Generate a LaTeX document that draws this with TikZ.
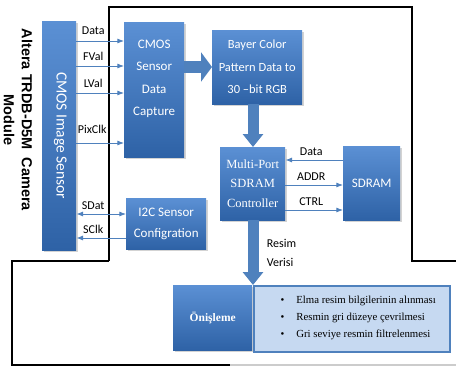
\documentclass[tikz,border=0pt]{standalone}
\usepackage{fontspec}
\setmainfont{Liberation Serif}
\newfontfamily\calfont{Carlito}
\newfontfamily\arialfont{Liberation Sans}
\usepackage{xcolor}
\usetikzlibrary{arrows.meta,shadows}
\definecolor{boxtop}{HTML}{5B90D4}
\definecolor{boxbot}{HTML}{2E62A6}
\definecolor{arrblue}{HTML}{4F81BD}
\definecolor{listfill}{HTML}{C6D9F1}

\begin{document}
\begin{tikzpicture}[x=1pt,y=-1pt,>=Latex,
  blk/.style={top color=boxtop,bottom color=boxbot,draw=none,text=white,
    drop shadow={opacity=0.35,shadow xshift=1.5pt,shadow yshift=-1.5pt},
    anchor=north west,align=center,inner sep=0pt},
  sig/.style={->,arrblue,line width=0.8pt},
  fat/.style={-{Triangle[width=20pt,length=13pt]},arrblue,line width=11pt},
  lbl/.style={font=\calfont\fontsize{12}{13}\selectfont,text=black},
  frame/.style={black,line width=1.3pt}]
  \useasboundingbox (0,0) rectangle (456,367);
  % outer frame of the camera module
  \draw[frame] (109,261) -- (109,7) -- (412,7) -- (412,261) -- (456,261);
  \draw[frame] (109,261) -- (12,261) -- (12,365) -- (230,365);
  \draw[gray!40,line width=1.2pt] (230,365) -- (456,365);
  \node[rotate=-90,align=center,font=\arialfont\bfseries\fontsize{14.5}{18}\selectfont] (mod) at (18,120) {Altera TRDB-D5M\ \ Camera\\Module};

  \node[blk,minimum width=34,minimum height=229] (sensor) at (42,21) {};
  \node[rotate=-90,text=white,font=\calfont\fontsize{15.5}{16}\selectfont] (senstxt) at ([xshift=1pt]sensor.center) {CMOS Image Sensor};
  \node[blk,minimum width=60,minimum height=135] (capture) at (124,22) {};
  \node[text=white,align=center,font=\calfont\fontsize{13}{22.3}\selectfont] (captxt) at ([yshift=11pt]capture.center) {CMOS\\Sensor\\Data\\Capture};
  \node[blk,minimum width=90,minimum height=74,font=\calfont\fontsize{12.5}{22.5}\selectfont] (bayer) at (212,30) {Bayer Color\\Pattern Data to\\30 –bit RGB};
  \node[blk,minimum width=65,minimum height=73,font=\fontsize{12.5}{19.5}\selectfont] (ctrl) at (220,147) {Multi-Port\\SDRAM\\Controller};
  \node[blk,minimum width=57,minimum height=74,font=\calfont\fontsize{13}{14}\selectfont] (sdram) at (343,146) {SDRAM};
  \node[blk,minimum width=80,minimum height=51,font=\calfont\fontsize{13}{21}\selectfont] (i2c) at (126,198) {I2C Sensor\\Configration};
  \node[blk,minimum width=79,minimum height=65,font=\bfseries\fontsize{11.5}{13}\selectfont] (onis) at (173,285) {Önişleme};
  \node[anchor=north west,fill=listfill,draw=arrblue,line width=1.5pt,minimum width=196,minimum height=66,
    drop shadow={opacity=0.25,shadow xshift=1.5pt,shadow yshift=-1.5pt}] (list) at (253,285) {};
  \node[anchor=west,align=left,font=\fontsize{10.8}{17}\selectfont] (items) at (277,318)
    {\textbullet\hspace{12pt}Elma resim bilgilerinin alınması\\
     \textbullet\hspace{12pt}Resmin gri düzeye çevrilmesi\\
     \textbullet\hspace{12pt}Gri seviye resmin filtrelenmesi};

  % sensor signals
  \draw[sig] (sensor.east |- 0,41) -- (capture.west |- 0,41) node[lbl,midway,above=3pt,xshift=-7pt] {Data};
  \draw[sig] (sensor.east |- 0,66) -- (capture.west |- 0,66) node[lbl,midway,above=2pt,xshift=-7pt] {FVal};
  \draw[sig] (sensor.east |- 0,93) -- (capture.west |- 0,93) node[lbl,midway,above=2pt,xshift=-7pt] {LVal};
  \draw[sig] (sensor.east |- 0,143) -- (capture.west |- 0,143) node[lbl,midway,above=6pt,xshift=-8pt] {PixClk};
  \draw[sig,<->] (sensor.east |- 0,214) -- (i2c.west |- 0,214) node[lbl,midway,above=1pt,xshift=-8pt] {SDat};
  \draw[sig] (i2c.west |- 0,238) -- (sensor.east |- 0,238) node[lbl,midway,above=1pt,xshift=-8pt] {SClk};

  % memory bus
  \draw[sig] (sdram.west |- 0,160) -- (ctrl.east |- 0,160) node[lbl,midway,above=1pt,xshift=-3pt] {Data};
  \draw[sig] (ctrl.east |- 0,185) -- (sdram.west |- 0,185) node[lbl,midway,above=1pt,xshift=-3pt] {ADDR};
  \draw[sig] (ctrl.east |- 0,210) -- (sdram.west |- 0,210) node[lbl,midway,above=1pt,xshift=-3pt] {CTRL};

  % data flow
  \draw[fat,-{Triangle[width=29pt,length=11pt]},line width=12pt] (capture.east |- 0,67) -- (bayer.west |- 0,67);
  \draw[fat] (bayer.south -| 253,0) -- (ctrl.north -| 253,0);
  \draw[fat] (ctrl.south -| 253,0) -- (list.north west -| 253,0)
    node[lbl,midway,right=5pt,align=left,font=\calfont\fontsize{12}{19}\selectfont] {Resim\\Verisi};
\end{tikzpicture}
\end{document}
